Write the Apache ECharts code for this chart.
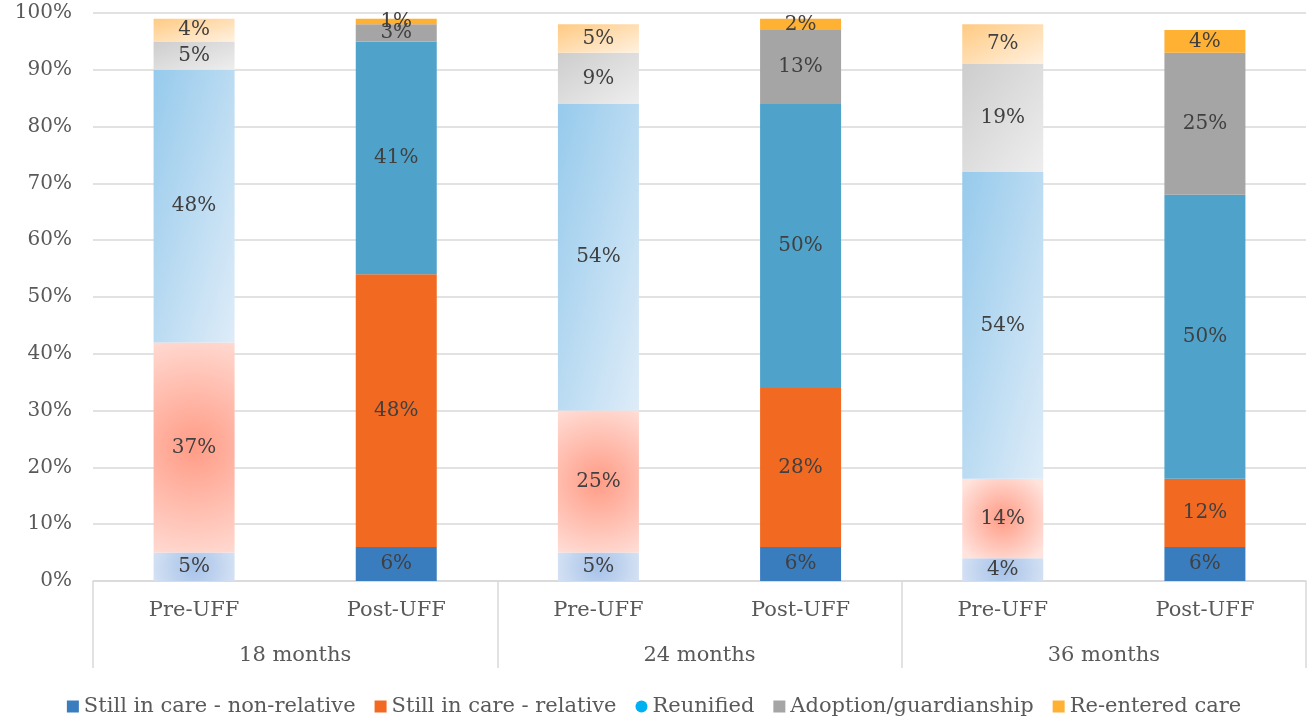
<!DOCTYPE html>
<html>
<head>
<meta charset="utf-8">
<script src="https://cdn.jsdelivr.net/npm/echarts@6/dist/echarts.min.js"></script>
<style>html,body{margin:0;padding:0;background:#fff}#c{width:1308px;height:722px}</style>
</head>
<body>
<div id="c"></div>
<script>
const categories = ['Pre-UFF','Post-UFF','Pre-UFF','Post-UFF','Pre-UFF','Post-UFF'];
const groups = ['18 months','24 months','36 months'];
const seriesNames = ['Still in care - non-relative','Still in care - relative','Reunified','Adoption/guardianship','Re-entered care'];
const nonRelative = [5, 6, 5, 6, 4, 6];
const relative = [37, 48, 25, 28, 14, 12];
const reunified = [48, 41, 54, 50, 54, 50];
const adoption = [5, 3, 9, 13, 19, 25];
const reentered = [4, 1, 5, 2, 7, 4];
const yTicks = [0,10,20,30,40,50,60,70,80,90,100];

const FONT = 'DejaVu Serif';
const BAR_W = 81;
const PLOT_H = 568; // grid height in px (for gradient geometry only)
const solid = ['#3a7dbf', '#f26a22', '#4fa3cb', '#a5a5a5', '#ffb134'];

// gradient helpers: geometry of a segment -> gradient in its bounding box
function diag(a, b, v) {
  const w = BAR_W, h = v * PLOT_H / 100;
  const d = h * h + w * w;
  return {type:'linear', x:0, y:0, x2: 2 * h * h / d, y2: 2 * w * w / d,
          colorStops:[{offset:0,color:a},{offset:1,color:b}]};
}
function radial(a, b, v) {
  const w = BAR_W, h = v * PLOT_H / 100;
  const r = 0.62 * Math.max(w, h) / Math.min(w, h);
  return {type:'radial', x:0.5, y:0.5, r: r,
          colorStops:[{offset:0,color:a},{offset:1,color:b}]};
}
const preFill = [
  v => radial('#a6c2e9', '#dde7f5', v),
  v => radial('#ff9c86', '#ffe3dd', v),
  v => diag('#96caec', '#deecf8', v),
  v => diag('#cdcdcd', '#eeeeee', v),
  v => diag('#ffca82', '#fff1e0', v)
];
const allValues = [nonRelative, relative, reunified, adoption, reentered];

const labelStyle = {show:true, position:'inside', formatter:p => p.value + '%', color:'#404040', fontFamily:FONT, fontSize:20};

const series = allValues.map((vals, s) => ({
  name: seriesNames[s],
  type: 'bar',
  stack: 'total',
  barWidth: BAR_W,
  xAxisIndex: 0,
  itemStyle: {color: solid[s]},
  label: labelStyle,
  labelLayout: {hideOverlap: false},
  data: vals.map((v, i) => ({value: v, itemStyle: {color: i % 2 === 0 ? preFill[s](v) : solid[s]}}))
}));

const chart = echarts.init(document.getElementById('c'), null, {renderer:'canvas'});
chart.setOption({
  animation: false,
  textStyle: {fontFamily: FONT},
  grid: {left: 93, right: 2, top: 13, bottom: 141, containLabel: false},
  legend: {
    bottom: 0,
    left: 'center',
    itemWidth: 12,
    itemHeight: 12,
    itemGap: 19,
    textStyle: {fontFamily: FONT, fontSize: 21, color: '#595959'},
    data: seriesNames.map((n, i) => ({name: n, icon: i === 2 ? 'circle' : 'rect', itemStyle: {color: i === 2 ? '#00b0f0' : solid[i]}}))
  },
  xAxis: [
    {
      type: 'category', data: categories, position: 'bottom',
      axisLine: {show: true, lineStyle: {color: '#d9d9d9', width: 1.5}},
      axisTick: {show: false},
      axisLabel: {margin: 19, fontFamily: FONT, fontSize: 21, color: '#595959', interval: 0}
    },
    {
      type: 'category', data: groups, position: 'bottom',
      axisLine: {show: false},
      axisTick: {show: true, length: 87, lineStyle: {color: '#d9d9d9', width: 1.5}},
      axisLabel: {margin: 64, fontFamily: FONT, fontSize: 21, color: '#595959'}
    }
  ],
  yAxis: {
    type: 'value', min: 0, max: 100, interval: 10,
    axisLine: {show: false}, axisTick: {show: false},
    splitLine: {lineStyle: {color: '#d9d9d9', width: 1.5}},
    axisLabel: {formatter: v => yTicks.includes(v) ? v + '%' : '', margin: 21, fontFamily: FONT, fontSize: 20, color: '#595959'}
  },
  series: series
});
</script>
</body>
</html>
